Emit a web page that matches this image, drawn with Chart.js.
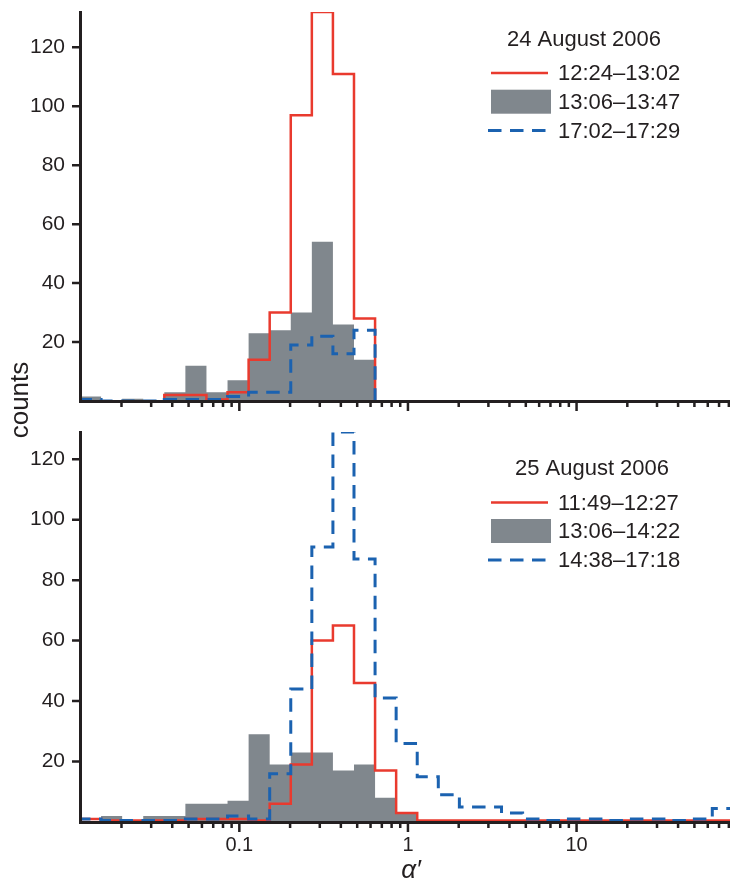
<!DOCTYPE html>
<html>
<head>
<meta charset="utf-8">
<script src="https://cdn.jsdelivr.net/npm/chart.js@4.4.1/dist/chart.umd.min.js"></script>
<style>
  html, body { margin: 0; padding: 0; background: #fff; }
  #figure { position: relative; width: 730px; height: 879px; overflow: hidden; }
  #topChart { position: absolute; left: 0; top: 0; }
  #bottomChart { position: absolute; left: 0; top: 418px; }
  #countsLabel {
    position: absolute; left: -31px; top: 385px; width: 100px; height: 30px;
    line-height: 30px; text-align: center; transform: rotate(-90deg);
    font: 26px "Liberation Sans", Arial, sans-serif; color: #231f20;
  }
</style>
</head>
<body>
<div id="figure">
  <canvas id="topChart" width="730" height="415"></canvas>
  <canvas id="bottomChart" width="730" height="461"></canvas>
  <div id="countsLabel">counts</div>
</div>
<script>
// histogram bins: 8 per decade in alpha', first edge at 10^-1.945
const BIN_START_LOG = -1.945;
const BINS_PER_DECADE = 8;

// 24 August 2006 (counts per bin, null = not drawn)
const RED_24 = [null, null, null, null, 2, 2, 0.5, 3, 14, 30, 97, 132, 111, 28];
const GRAY_24 = [1.5, 0, 0.8, 0, 3, 12, 3, 7, 23, 24, 30, 54, 26, 14];
const BLUE_24 = [0.5, 0, 0, 0, 0.5, 0.5, 0.5, 1.5, 3, 3, 19, 22, 16, 24];
const LABELS_24 = ['12:24–13:02', '13:06–13:47', '17:02–17:29'];

// 25 August 2006
const RED_25 = [1, 0.5, 0.5, 0.5, 0.5, 1, 1, 1, 0.5, 6, 19, 60, 65, 46, 17, 3,
  0.5, 0.5, 0.5, 0.5, 0.5, 0.5, 0.5, 0.5, 0.5, 0.5, 0.5, 0.5, 0.5, 0.5, 0.5];
const GRAY_25 = [0, 2, 0, 2, 2, 6, 6, 7, 29, 19, 23, 23, 17, 19, 8, 3];
const BLUE_25 = [1, 0.5, 0.5, 0.5, 0.5, 1, 1, 2, 1, 16, 44, 91, 129, 87, 41, 26,
  15, 9, 5, 5, 3, 1, 0.5, 1, 1, 0.5, 1, 1, 0.5, 1, 4.5];
const LABELS_25 = ['11:49–12:27', '13:06–14:22', '14:38–17:18'];

const X_MAJOR = [0.1, 1, 10];
const X_MINOR_MANTISSA = [2, 3, 4, 5, 6, 7, 8, 9];
const Y_TICKS = [20, 40, 60, 80, 100, 120];
const X_MIN = 10 ** -1.945;
const X_MAX = 10 ** 1.91;

const RED = '#e93a2e';
const GRAY = '#80878d';
const BLUE = '#1b62b0';
const INK = '#231f20';
const FONT = '"Liberation Sans", Arial, Helvetica, sans-serif';

function binEdge(k) {
  return 10 ** (BIN_START_LOG + k / BINS_PER_DECADE);
}

// step outline points for 'before' stepping
function histogram(counts) {
  let s = counts.findIndex(c => c !== null);
  const pts = [{ x: binEdge(s), y: 0 }];
  for (let k = s; k < counts.length; k++) {
    pts.push({ x: binEdge(k), y: counts[k] });
  }
  pts.push({ x: binEdge(counts.length), y: 0 });
  return pts;
}

function xTickValues() {
  const vals = [];
  for (let e = -2; e <= 1; e++) {
    const base = 10 ** e;
    if (e > -2) vals.push({ value: X_MAJOR[e + 1], major: true });
    X_MINOR_MANTISSA.forEach(m => {
      const v = +(m * base).toPrecision(3);
      if (v >= X_MIN && v <= X_MAX) vals.push({ value: v, major: false });
    });
  }
  return vals.sort((a, b) => a.value - b.value);
}

// tick marks drawn by hand: long ticks at decades, short ones between
const axisTickMarks = {
  id: 'axisTickMarks',
  afterDraw(chart) {
    const { x: xs, y: ys } = chart.scales;
    const { left, bottom } = chart.chartArea;
    const ctx = chart.ctx;
    ctx.save();
    ctx.strokeStyle = INK;
    ctx.lineWidth = 2.5;
    ctx.beginPath();
    xs.ticks.forEach(t => {
      const x = xs.getPixelForValue(t.value);
      ctx.moveTo(x, bottom);
      ctx.lineTo(x, bottom + (t.major ? 10 : 6));
    });
    ys.ticks.forEach(t => {
      const y = ys.getPixelForValue(t.value);
      ctx.moveTo(left, y);
      ctx.lineTo(left - 8, y);
    });
    ctx.stroke();
    ctx.restore();
  }
};

const panelLegend = {
  id: 'panelLegend',
  afterDraw(chart, args, opts) {
    if (!opts.title) return;
    const ctx = chart.ctx;
    ctx.save();
    ctx.font = '22px ' + FONT;
    ctx.fillStyle = INK;
    ctx.textBaseline = 'middle';
    ctx.textAlign = 'center';
    ctx.fillText(opts.title, opts.titleX, opts.titleY);
    ctx.textAlign = 'left';
    opts.rows.forEach((idx, row) => {
      const ds = chart.data.datasets[idx];
      const y = opts.rowY[row];
      if (ds.fill) {
        ctx.fillStyle = ds.backgroundColor;
        ctx.fillRect(491, y - 12, 60, 24);
      } else {
        ctx.strokeStyle = ds.borderColor;
        ctx.lineWidth = ds.borderWidth;
        ctx.setLineDash(ds.borderDash || []);
        ctx.beginPath();
        ctx.moveTo(ds.borderDash ? 488 : 491, y);
        ctx.lineTo(548, y);
        ctx.stroke();
        ctx.setLineDash([]);
      }
      ctx.fillStyle = INK;
      ctx.fillText(ds.label, 558, y + 1);
    });
    if (opts.caption) {
      ctx.font = 'italic 26px ' + FONT;
      ctx.textAlign = 'center';
      ctx.textBaseline = 'alphabetic';
      ctx.fillText(opts.caption, 411, chart.height - 1.5);
    }
    ctx.restore();
  }
};

function makeChart(canvasId, red, gray, blue, labels, cfg) {
  return new Chart(document.getElementById(canvasId), {
    type: 'line',
    data: {
      datasets: [
        { label: labels[0], data: histogram(red), borderColor: RED, borderWidth: 2.5,
          fill: false, order: 2 },
        { label: labels[1], data: histogram(gray), borderColor: 'rgba(0,0,0,0)', borderWidth: 0,
          backgroundColor: GRAY, fill: 'origin', order: 3 },
        { label: labels[2], data: histogram(blue), borderColor: BLUE, borderWidth: 3,
          borderDash: [13.5, 8.5], fill: false, order: 1 }
      ]
    },
    options: {
      responsive: false,
      animation: false,
      devicePixelRatio: 1,
      datasets: { line: { stepped: 'before', pointRadius: 0, pointHitRadius: 0, tension: 0 } },
      layout: { padding: { top: cfg.padTop, left: 0, right: 0, bottom: 0 } },
      scales: {
        x: {
          type: 'logarithmic',
          min: X_MIN,
          max: X_MAX,
          afterBuildTicks: scale => { scale.ticks = xTickValues(); },
          afterFit: scale => { scale.height = cfg.xHeight; },
          // invisible grid ticks only reserve room between axis and labels
          grid: { display: true, drawOnChartArea: false, drawTicks: true, tickLength: 11,
            tickColor: 'rgba(0,0,0,0)' },
          border: { display: true, color: INK, width: 3, z: 1 },
          ticks: {
            display: cfg.xLabels,
            autoSkip: false,
            maxRotation: 0,
            minRotation: 0,
            padding: 0,
            color: INK,
            font: { family: FONT, size: 20 },
            callback: (value, i, ticks) => ticks[i].major ? String(value) : ''
          }
        },
        y: {
          min: 0,
          max: cfg.yMax,
          afterBuildTicks: scale => { scale.ticks = Y_TICKS.map(v => ({ value: v })); },
          afterFit: scale => { scale.width = 80; },
          grid: { display: true, drawOnChartArea: false, drawTicks: true, tickLength: 15,
            tickColor: 'rgba(0,0,0,0)' },
          border: { display: true, color: INK, width: 3, z: 1 },
          ticks: { autoSkip: false, padding: 0, color: INK,
            font: { family: FONT, size: 21, lineHeight: 1 } }
        }
      },
      plugins: {
        legend: { display: false },
        tooltip: { enabled: false },
        panelLegend: cfg.legend
      }
    },
    plugins: [axisTickMarks, panelLegend]
  });
}

makeChart('topChart', RED_24, GRAY_24, BLUE_24, LABELS_24, {
  padTop: 12, xHeight: 14, yMax: 132, xLabels: false,
  legend: { title: '24 August 2006', titleX: 584, titleY: 40, rows: [0, 1, 2], rowY: [73, 101.7, 130.5] }
});

makeChart('bottomChart', RED_25, GRAY_25, BLUE_25, LABELS_25, {
  padTop: 14, xHeight: 57, yMax: 129, xLabels: true,
  legend: { title: '25 August 2006', titleX: 592, titleY: 51.3, rows: [0, 1, 2], rowY: [84.5, 113, 142],
    caption: 'α′' }
});
</script>
</body>
</html>
